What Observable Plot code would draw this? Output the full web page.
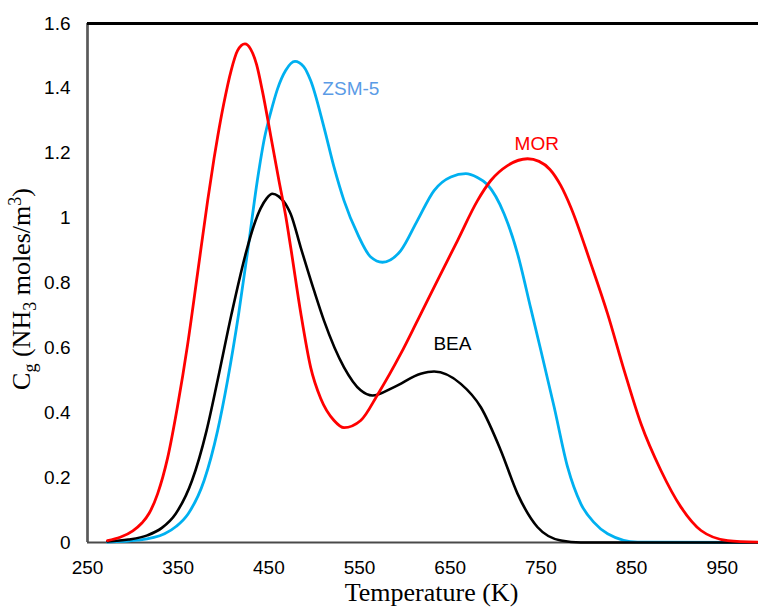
<!DOCTYPE html>
<html>
<head>
<meta charset="utf-8">
<script src="https://cdn.jsdelivr.net/npm/d3@7"></script>
<script src="https://cdn.jsdelivr.net/npm/@observablehq/plot@0.6"></script>
<style>
  html, body { margin: 0; padding: 0; background: #fff; }
  #chart svg { display: block; }
</style>
</head>
<body>
<div id="chart"></div>
<script>
// ---- Data ----
// Temperature (K) and gas-phase NH3 concentration (moles/m3)
const morT = [272, 286, 300, 310, 318, 327.3, 338.3, 349.3, 360.4, 371.4, 382.5, 389.6, 393.5, 400.1, 408.4, 415.6, 423.6, 429.9, 436.5, 442.8, 452, 461.1, 468.5, 474.1, 485.1, 496.1, 507.2, 521.9, 532.9, 551.3, 570.4, 595.5, 613.9, 636, 658.1, 680.1, 694.8, 713.2, 735.3, 748, 760, 772, 783.1, 805.2, 823.6, 841.9, 860.4, 882.4, 904.5, 926.6, 956.1, 990];
const morC = [0.006, 0.016, 0.036, 0.06, 0.09, 0.15, 0.26, 0.42, 0.61, 0.83, 1.054, 1.185, 1.25, 1.35, 1.455, 1.517, 1.537, 1.521, 1.473, 1.393, 1.255, 1.116, 1.008, 0.91, 0.709, 0.54, 0.444, 0.376, 0.354, 0.376, 0.458, 0.582, 0.684, 0.808, 0.931, 1.054, 1.116, 1.162, 1.183, 1.175, 1.15, 1.1, 1.033, 0.859, 0.705, 0.53, 0.366, 0.222, 0.109, 0.037, 0.006, 0.001];

const zsmT = [272, 305, 335.0, 348, 360.9, 378.6, 393.5, 404.5, 416.7, 427.2, 437.3, 445.4, 452, 459.4, 468.5, 478.8, 488.4, 496.1, 510.8, 521.9, 532.9, 547.7, 562.4, 575.3, 595.5, 613.9, 632.2, 650.7, 667.2, 680, 691.2, 709.5, 724.3, 739, 750, 764.7, 779.5, 794.1, 808.5, 823.6, 856.7, 990];
const zsmC = [0.001, 0.007, 0.027, 0.05, 0.088, 0.191, 0.345, 0.5, 0.705, 0.91, 1.116, 1.25, 1.325, 1.397, 1.455, 1.483, 1.467, 1.424, 1.28, 1.157, 1.054, 0.952, 0.88, 0.864, 0.9, 0.993, 1.085, 1.127, 1.137, 1.125, 1.103, 1.013, 0.89, 0.72, 0.592, 0.417, 0.232, 0.119, 0.062, 0.027, 0.001, 0];

const beaT = [272, 295, 315.9, 332, 347.1, 365.3, 381.3, 393.5, 408.9, 424.9, 433.2, 440.9, 447.6, 453.9, 460.8, 470.4, 474.1, 485.1, 499.8, 510.8, 532.9, 551.3, 564.2, 588.1, 617.5, 632.2, 661.7, 683.8, 705.8, 724.3, 746.4, 772.1, 794.1, 990];
const beaC = [0.003, 0.009, 0.022, 0.045, 0.088, 0.191, 0.345, 0.5, 0.705, 0.895, 0.975, 1.03, 1.061, 1.075, 1.067, 1.034, 1.013, 0.91, 0.777, 0.684, 0.54, 0.469, 0.453, 0.479, 0.52, 0.527, 0.489, 0.417, 0.284, 0.15, 0.047, 0.006, 0, 0];

// Series labels and their anchor points (data coordinates)
const labelNames = ["ZSM-5", "MOR", "BEA"];
const labelT = [509, 721, 631.5];
const labelC = [1.397, 1.23, 0.612];

// Axis ticks
const xTicks = [250, 350, 450, 550, 650, 750, 850, 950];
const yTicks = [0, 0.2, 0.4, 0.6, 0.8, 1, 1.2, 1.4, 1.6];
const yTickLabels = ["0", "0.2", "0.4", "0.6", "0.8", "1", "1.2", "1.4", "1.6"];

const toRows = (T, C) => T.map((t, i) => ({T: t, C: C[i]}));
const mor = toRows(morT, morC);
const zsm = toRows(zsmT, zsmC);
const bea = toRows(beaT, beaC);
const labels = labelNames.map((n, i) => ({name: n, T: labelT[i], C: labelC[i]}));
const labelColors = {"ZSM-5": "#5a9be6", "MOR": "#ff0000", "BEA": "#000000"};

const chart = Plot.plot({
  width: 758,
  height: 608,
  marginLeft: 87,
  marginRight: 0,
  marginTop: 23,
  marginBottom: 66,
  style: {fontFamily: "'Liberation Sans', Arial, sans-serif", fontSize: "19px", background: "#fff", color: "#000", overflow: "visible"},
  x: {domain: [250, 990], ticks: xTicks, tickSize: 0, tickPadding: 18, label: null, tickFormat: d => String(d)},
  y: {domain: [0, 1.6], ticks: yTicks, tickSize: 0, tickPadding: 17, label: null, tickFormat: d => yTickLabels[yTicks.indexOf(d)]},
  marks: [
    Plot.ruleX([250], {stroke: "#595959", strokeWidth: 2.7}),
    Plot.ruleY([0], {stroke: "#4a4a4a", strokeWidth: 2}),
    Plot.ruleY([1.6], {stroke: "#000", strokeWidth: 3}),
    Plot.line(zsm, {x: "T", y: "C", stroke: "#00b0f0", strokeWidth: 2.8, curve: "monotone-x"}),
    Plot.line(bea, {x: "T", y: "C", stroke: "#000000", strokeWidth: 2.6, curve: "monotone-x"}),
    Plot.line(mor, {x: "T", y: "C", stroke: "#ff0000", strokeWidth: 2.8, curve: "monotone-x"}),
    Plot.text(labels, {x: "T", y: "C", text: "name", fill: d => labelColors[d.name], textAnchor: "start", lineAnchor: "middle", fontSize: 19})
  ]
});

document.getElementById("chart").appendChild(chart);

// Axis titles (serif, with sub/superscripts)
const svg = d3.select(chart);
const yt = svg.append("text")
  .attr("transform", "translate(30,289) rotate(-90)")
  .attr("text-anchor", "middle")
  .attr("font-family", "'Liberation Serif', 'Times New Roman', serif")
  .attr("font-size", "26px")
  .attr("fill", "#000");
yt.append("tspan").text("C");
yt.append("tspan").attr("font-size", "18px").attr("dy", "6px").text("g");
yt.append("tspan").attr("dy", "-6px").text(" (NH");
yt.append("tspan").attr("font-size", "18px").attr("dy", "6px").text("3");
yt.append("tspan").attr("dy", "-6px").text(" moles/m");
yt.append("tspan").attr("font-size", "18px").attr("dy", "-9px").text("3");
yt.append("tspan").attr("dy", "9px").text(")");

svg.append("text")
  .attr("x", 431.5)
  .attr("y", 601)
  .attr("text-anchor", "middle")
  .attr("font-family", "'Liberation Serif', 'Times New Roman', serif")
  .attr("font-size", "26px")
  .attr("fill", "#000")
  .text("Temperature (K)");
</script>
</body>
</html>
